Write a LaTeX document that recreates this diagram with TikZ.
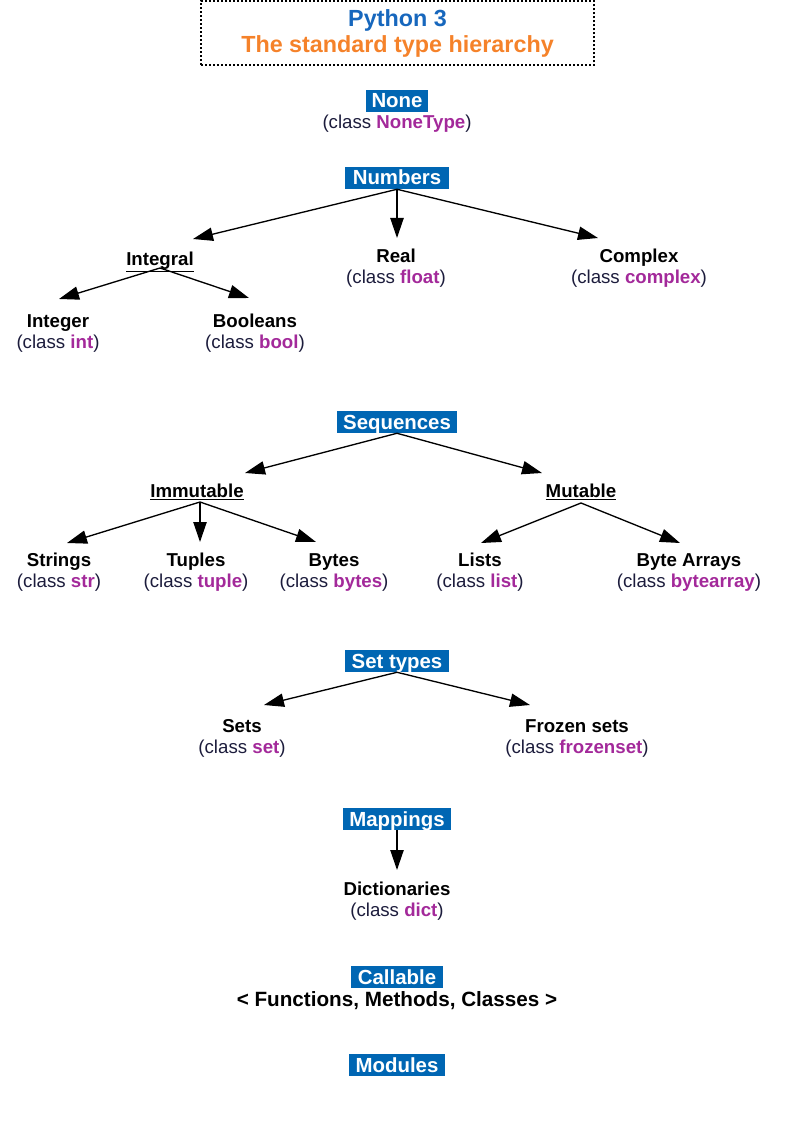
\documentclass[tikz,border=0pt]{standalone}
\usepackage{fontspec}
\setmainfont{Liberation Sans}
\usetikzlibrary{arrows.meta,calc}
\definecolor{hdrblue}{HTML}{0066B3}
\definecolor{clspurple}{HTML}{A3299A}
\definecolor{clsnavy}{HTML}{1C1C3C}
\definecolor{ttlblue}{HTML}{1767BD}
\definecolor{ttlorange}{HTML}{F5822A}
\newcommand{\clsline}[1]{{\color{clsnavy}(class \textbf{\color{clspurple}#1})}}
\begin{document}
\begin{tikzpicture}[x=0.75pt,y=-0.75pt,
  hdr/.style={fill=hdrblue,text=white,font=\bfseries\fontsize{15.3}{17}\selectfont,
    inner xsep=4.8pt,inner ysep=0pt,text height=13.5pt,text depth=3pt},
  lbl/.style={align=center,inner sep=0pt,anchor=base,font=\fontsize{14}{15.75}\selectfont},
  arr/.style={-{Triangle[length=15pt,width=10pt]},line width=1pt},
  ttl/.style={draw,line width=1.5pt,dash pattern=on 1.5pt off 1.5pt,
    minimum width=294.75pt,minimum height=48pt,align=center,inner sep=0pt,
    font=\bfseries\fontsize{17.5}{19.5}\selectfont}]
\useasboundingbox (0,0) rectangle (794,1123);

% title
\node[ttl] (title) at (397.5,33.5) {\color{ttlblue}Python 3\\\color{ttlorange}The standard type hierarchy};

% None
\node[hdr,inner xsep=4pt] (none) at (397,101) {None};
\node[lbl] (nonetype) at (397,129) {\clsline{NoneType}};

% Numbers (two-line labels: base = second baseline)
\node[hdr,inner xsep=6pt] (numbers) at (397,178) {Numbers};
\node[lbl] (integral) at (160,265) {\textbf{\underline{Integral}}};
\node[lbl] (real) at (396,283) {\textbf{Real}\\\clsline{float}};
\node[lbl] (complex) at (639,283) {\textbf{Complex}\\\clsline{complex}};
\node[lbl] (integer) at (58,348) {\textbf{Integer}\\\clsline{int}};
\node[lbl] (booleans) at (255,348) {\textbf{Booleans}\\\clsline{bool}};

\draw[arr] (numbers.south) -- ($(integral.base)+(33,-26)$);
\draw[arr] (numbers.south) -- ($(real.base)+(1,-45)$);
\draw[arr] (numbers.south) -- ($(complex.base)+(-41,-45)$);
\draw[arr] ($(integral.base)+(0,3)$) -- ($(integer.base)+(1,-49)$);
\draw[arr] ($(integral.base)+(0,3)$) -- ($(booleans.base)+(-6,-50)$);

% Sequences
\node[hdr,inner xsep=4.5pt] (sequences) at (397,422) {Sequences};
\node[lbl] (immutable) at (197,497) {\textbf{\underline{Immutable}}};
\node[lbl] (mutable) at (581,497) {\textbf{\underline{Mutable}}};
\node[lbl] (strings) at (59,587) {\textbf{Strings}\\\clsline{str}};
\node[lbl] (tuples) at (196,587) {\textbf{Tuples}\\\clsline{tuple}};
\node[lbl] (bytes) at (334,587) {\textbf{Bytes}\\\clsline{bytes}};
\node[lbl] (lists) at (480,587) {\textbf{Lists}\\\clsline{list}};
\node[lbl] (bytearrays) at (689,587) {\textbf{Byte Arrays}\\\clsline{bytearray}};

\draw[arr] (sequences.south) -- ($(immutable.base)+(48,-24)$);
\draw[arr] (sequences.south) -- ($(mutable.base)+(-39,-24)$);
\draw[arr] ($(immutable.base)+(3,5)$) -- ($(strings.base)+(8,-44)$);
\draw[arr] ($(immutable.base)+(3,5)$) -- ($(tuples.base)+(4,-45)$);
\draw[arr] ($(immutable.base)+(3,5)$) -- ($(bytes.base)+(-18,-45)$);
\draw[arr] ($(mutable.base)+(0,6)$) -- ($(lists.base)+(1,-44)$);
\draw[arr] ($(mutable.base)+(0,6)$) -- ($(bytearrays.base)+(-9,-44)$);

% Set types
\node[hdr] (settypes) at (397,661) {Set types};
\node[lbl] (sets) at (242,753) {\textbf{Sets}\\\clsline{set}};
\node[lbl] (frozensets) at (577,753) {\textbf{Frozen sets}\\\clsline{frozenset}};
\draw[arr] (settypes.south) -- ($(sets.base)+(22,-48)$);
\draw[arr] (settypes.south) -- ($(frozensets.base)+(-47,-48)$);

% Mappings
\node[hdr] (mappings) at (397,819) {Mappings};
\node[lbl] (dicts) at (397,916) {\textbf{Dictionaries}\\\clsline{dict}};
\draw[arr] (mappings.south) -- ($(dicts.base)+(0,-46)$);

% Callable
\node[hdr] (callable) at (397,977) {Callable};
\node[lbl,font=\bfseries\fontsize{15.5}{17}\selectfont] (functions) at (397,1006) {< Functions, Methods, Classes >};

% Modules
\node[hdr] (modules) at (397,1065) {Modules};
\end{tikzpicture}
\end{document}
